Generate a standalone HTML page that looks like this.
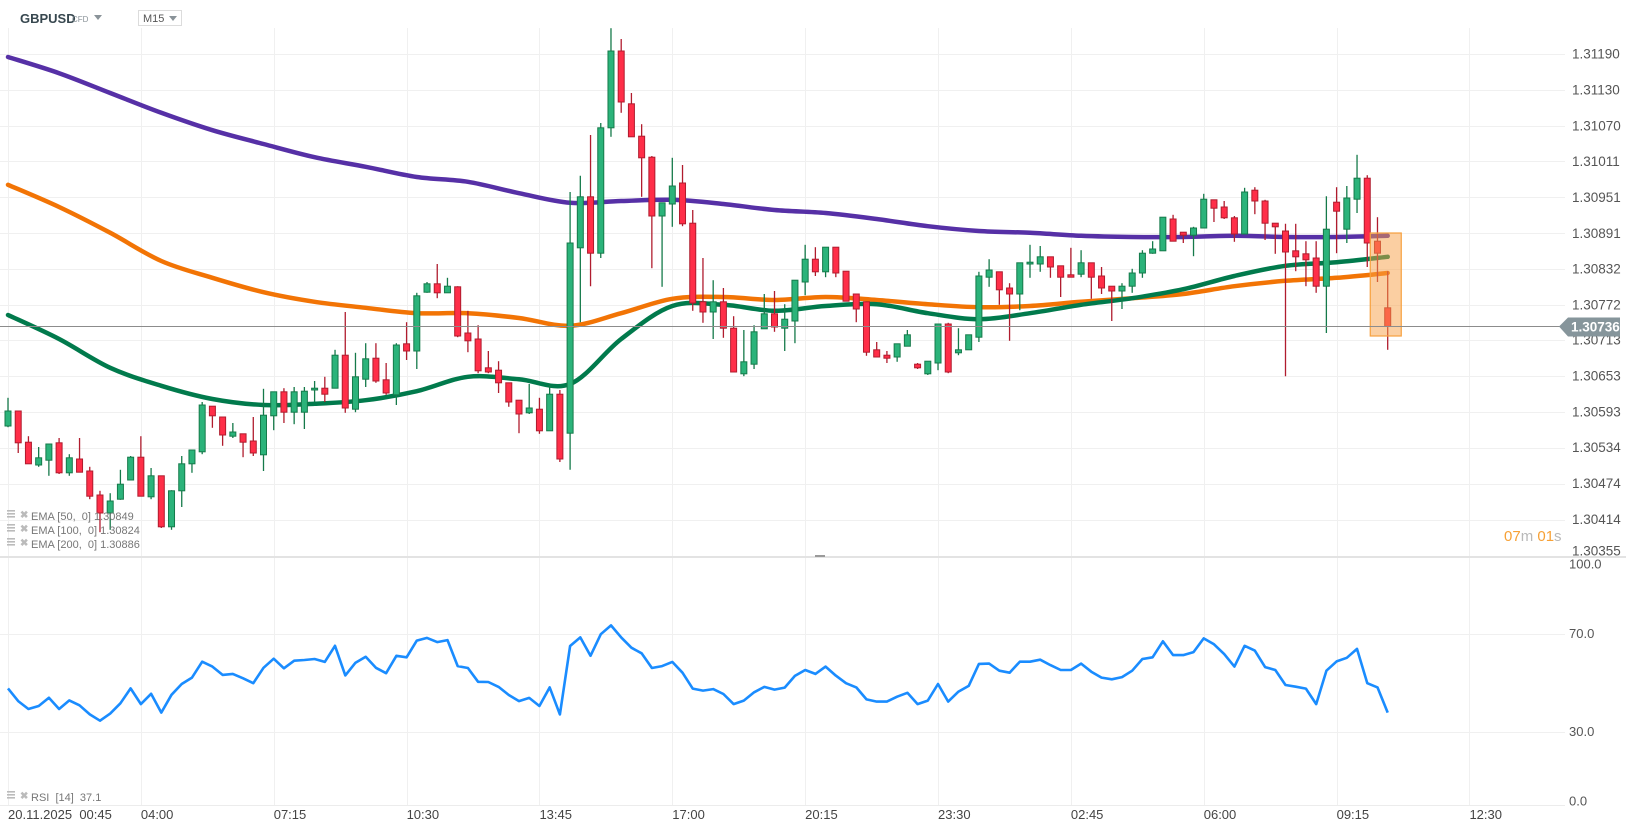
<!DOCTYPE html>
<html><head><meta charset="utf-8"><style>
html,body{margin:0;padding:0;background:#fff;}
svg{display:block;font-family:"Liberation Sans",Arial,sans-serif;}
</style></head><body>
<svg id="chart" width="1626" height="831" viewBox="0 0 1626 831" xmlns="http://www.w3.org/2000/svg">
<g id="grid"></g>
<g id="emas"></g>
<g id="candles"></g>
<g id="rsi"></g>
<g id="axes"></g>
<rect x="0" y="556" width="1626" height="2" fill="#e3e3e3"/>
<rect x="815" y="555" width="10" height="2" fill="#9a9a9a"/>
<g>
<text x="20" y="23" font-size="13" font-weight="bold" fill="#37474f">GBPUSD</text>
<text x="72" y="22" font-size="8" fill="#8a9399">CFD</text>
<path d="M94 15 L102 15 L98 20 Z" fill="#8a9399"/>
</g>
<g>
<rect x="138.5" y="10.5" width="43" height="15" fill="#fff" stroke="#dcdcdc"/>
<text x="143" y="22" font-size="11" fill="#555">M15</text>
<path d="M169 16 L177 16 L173 21 Z" fill="#8a9399"/>
</g>
<g id="legend"></g>
<text x="1504" y="541" font-size="15"><tspan fill="#f7a136">07</tspan><tspan fill="#b9b9b9">m </tspan><tspan fill="#f7a136">01</tspan><tspan fill="#b9b9b9">s</tspan></text>
</svg>
<script>
const openP=[1.30570,1.30595,1.30543,1.30505,1.30513,1.30542,1.30492,1.30515,1.30495,1.30455,
1.30425,1.30448,1.30480,1.30518,1.30452,1.30487,1.30402,1.30462,1.30507,1.30527,
1.30603,1.30585,1.30553,1.30557,1.30545,1.30522,1.30587,1.30627,1.30593,1.30593,
1.30630,1.30633,1.30633,1.30688,1.30598,1.30648,1.30683,1.30647,1.30622,1.30707,
1.30695,1.30793,1.30807,1.30792,1.30802,1.30725,1.30715,1.30667,1.30663,1.30642,
1.30613,1.30592,1.30598,1.30562,1.30623,1.30558,1.30867,1.30952,1.30858,1.31067,
1.31195,1.31107,1.31053,1.31018,1.30920,1.30940,1.30975,1.30908,1.30777,1.30760,
1.30777,1.30733,1.30657,1.30673,1.30732,1.30757,1.30733,1.30745,1.30810,1.30848,
1.30827,1.30868,1.30828,1.30790,1.30777,1.30697,1.30688,1.30685,1.30703,1.30673,
1.30657,1.30675,1.30740,1.30692,1.30697,1.30718,1.30818,1.30827,1.30800,1.30790,
1.30840,1.30840,1.30852,1.30837,1.30822,1.30823,1.30842,1.30820,1.30803,1.30795,
1.30803,1.30825,1.30858,1.30862,1.30915,1.30893,1.30888,1.30900,1.30947,1.30935,
1.30917,1.30890,1.30963,1.30945,1.30908,1.30895,1.30862,1.30857,1.30850,1.30803,
1.30943,1.30898,1.30948,1.30983,1.30878,1.30767];
const highP=[1.30617,1.30595,1.30553,1.30535,1.30540,1.30550,1.30523,1.30550,1.30502,1.30462,
1.30458,1.30497,1.30520,1.30553,1.30500,1.30487,1.30463,1.30520,1.30530,1.30610,
1.30603,1.30585,1.30575,1.30557,1.30585,1.30632,1.30627,1.30633,1.30635,1.30635,
1.30645,1.30652,1.30697,1.30760,1.30692,1.30708,1.30708,1.30675,1.30708,1.30743,
1.30792,1.30810,1.30840,1.30817,1.30803,1.30762,1.30738,1.30695,1.30678,1.30642,
1.30613,1.30640,1.30617,1.30638,1.30630,1.30960,1.30987,1.31055,1.31075,1.31233,
1.31215,1.31125,1.31073,1.31020,1.30942,1.31017,1.31005,1.30930,1.30850,1.30813,
1.30800,1.30753,1.30730,1.30738,1.30790,1.30795,1.30773,1.30813,1.30872,1.30868,
1.30868,1.30868,1.30828,1.30790,1.30777,1.30710,1.30695,1.30707,1.30730,1.30675,
1.30678,1.30740,1.30742,1.30733,1.30722,1.30827,1.30848,1.30827,1.30808,1.30842,
1.30872,1.30870,1.30852,1.30837,1.30867,1.30863,1.30842,1.30835,1.30803,1.30808,
1.30832,1.30863,1.30878,1.30918,1.30922,1.30893,1.30902,1.30957,1.30947,1.30945,
1.30920,1.30967,1.30968,1.30947,1.30908,1.30907,1.30907,1.30878,1.30878,1.30953,
1.30968,1.30970,1.31022,1.30988,1.30918,1.30828];
const lowP=[1.30568,1.30525,1.30507,1.30502,1.30487,1.30490,1.30487,1.30493,1.30448,1.30393,
1.30397,1.30447,1.30480,1.30453,1.30448,1.30400,1.30397,1.30435,1.30492,1.30523,
1.30567,1.30537,1.30550,1.30518,1.30520,1.30495,1.30563,1.30575,1.30573,1.30565,
1.30610,1.30610,1.30633,1.30592,1.30593,1.30635,1.30642,1.30622,1.30605,1.30680,
1.30665,1.30792,1.30783,1.30792,1.30718,1.30693,1.30658,1.30658,1.30625,1.30602,
1.30558,1.30590,1.30557,1.30562,1.30510,1.30497,1.30743,1.30803,1.30850,1.31052,
1.31092,1.31052,1.30952,1.30833,1.30802,1.30902,1.30903,1.30762,1.30742,1.30715,
1.30717,1.30660,1.30653,1.30665,1.30732,1.30727,1.30695,1.30708,1.30788,1.30820,
1.30818,1.30818,1.30778,1.30743,1.30687,1.30685,1.30675,1.30677,1.30703,1.30665,
1.30655,1.30663,1.30658,1.30688,1.30697,1.30710,1.30802,1.30772,1.30712,1.30763,
1.30817,1.30827,1.30817,1.30785,1.30818,1.30818,1.30782,1.30790,1.30745,1.30765,
1.30792,1.30817,1.30857,1.30862,1.30878,1.30875,1.30853,1.30900,1.30910,1.30915,
1.30877,1.30890,1.30923,1.30880,1.30857,1.30653,1.30828,1.30803,1.30792,1.30725,
1.30858,1.30875,1.30925,1.30835,1.30810,1.30697];
const closeP=[1.30595,1.30542,1.30507,1.30517,1.30540,1.30492,1.30517,1.30493,1.30453,1.30425,
1.30445,1.30473,1.30518,1.30453,1.30487,1.30402,1.30462,1.30507,1.30530,1.30605,
1.30587,1.30555,1.30560,1.30543,1.30525,1.30588,1.30627,1.30593,1.30627,1.30628,
1.30633,1.30623,1.30688,1.30600,1.30652,1.30682,1.30645,1.30625,1.30705,1.30695,
1.30787,1.30807,1.30792,1.30803,1.30720,1.30712,1.30662,1.30660,1.30642,1.30610,
1.30590,1.30600,1.30562,1.30623,1.30515,1.30875,1.30952,1.30858,1.31067,1.31195,
1.31110,1.31052,1.31017,1.30920,1.30942,1.30970,1.30907,1.30775,1.30760,1.30777,
1.30733,1.30660,1.30677,1.30727,1.30757,1.30735,1.30748,1.30813,1.30848,1.30827,
1.30868,1.30825,1.30778,1.30765,1.30693,1.30685,1.30683,1.30707,1.30722,1.30667,
1.30678,1.30740,1.30660,1.30697,1.30722,1.30820,1.30830,1.30797,1.30790,1.30842,
1.30843,1.30852,1.30835,1.30818,1.30818,1.30842,1.30818,1.30800,1.30795,1.30803,
1.30825,1.30858,1.30865,1.30918,1.30878,1.30888,1.30900,1.30948,1.30933,1.30917,
1.30890,1.30960,1.30945,1.30908,1.30902,1.30860,1.30852,1.30847,1.30803,1.30898,
1.30928,1.30950,1.30983,1.30875,1.30858,1.30736];
const emaIdx=[0,5,10,15,20,25,30,35,40,45,50,55,60,65,70,75,80,85,90,95,100,105,110,115,120,125,130,135];
const ema50=[1.30755,1.30715,1.30667,1.30637,1.30615,1.30605,1.30607,1.30613,1.30628,1.30652,1.30648,1.30640,1.30715,1.30770,1.30772,1.30762,1.30770,1.30773,1.30758,1.30748,1.30758,1.30772,1.30783,1.30798,1.30820,1.30837,1.30843,1.30852];
const ema100=[1.30972,1.30935,1.30892,1.30845,1.30817,1.30793,1.30777,1.30767,1.30758,1.30758,1.30750,1.30737,1.30758,1.30782,1.30785,1.30780,1.30785,1.30780,1.30773,1.30768,1.30770,1.30777,1.30783,1.30790,1.30803,1.30812,1.30817,1.30825];
const ema200=[1.31185,1.31158,1.31125,1.31092,1.31063,1.31040,1.31018,1.31002,1.30985,1.30977,1.30958,1.30942,1.30945,1.30947,1.30940,1.30930,1.30925,1.30915,1.30903,1.30895,1.30892,1.30887,1.30885,1.30885,1.30887,1.30885,1.30885,1.30887];
const rsiVals=[47.6,42.4,39.2,40.4,43.8,39.2,42.7,40.7,37.0,34.4,
37.3,41.5,47.6,41.2,45.4,37.7,45.0,49.4,52.0,58.5,
56.5,53.1,53.5,51.7,49.7,56.0,59.7,55.8,58.9,59.2,
59.6,58.4,65.0,52.9,58.1,60.5,56.0,53.8,60.9,60.3,
67.1,68.2,66.5,67.3,56.7,55.9,50.3,50.2,48.2,44.9,
42.4,43.7,40.4,48.0,37.0,64.9,68.4,60.9,69.7,73.3,
68.4,64.2,61.9,55.9,56.7,58.4,54.0,47.5,
46.7,47.3,45.3,41.2,42.6,46.0,48.2,47.1,47.9,52.7,
55.1,53.5,56.5,52.8,49.7,48.0,43.1,42.2,42.2,44.2,
45.8,41.2,42.6,49.4,42.2,46.3,48.6,57.6,57.7,54.8,
54.0,58.5,58.5,59.3,57.1,55.1,55.1,57.7,54.4,52.0,
51.3,52.2,54.8,59.6,60.3,66.8,61.2,61.2,62.4,68.0,
65.6,61.6,56.5,65.0,63.0,56.3,55.1,49.0,48.3,47.5,
41.2,54.8,58.6,60.1,63.7,49.7,48.0,37.7];
const priceTicks=[1.31190,1.31130,1.31070,1.31011,1.30951,1.30891,1.30832,1.30772,1.30713,1.30653,1.30593,1.30534,1.30474,1.30414,1.30355];
const priceTickLabels=["1.31190","1.31130","1.31070","1.31011","1.30951","1.30891","1.30832","1.30772","1.30713","1.30653","1.30593","1.30534","1.30474","1.30414","1.30355"];
const rsiTicks=[100,70,30,0];
const rsiTickLabels=["100.0","70.0","30.0","0.0"];
const timeTickIdx=[0,13,26,39,52,65,78,91,104,117,130,143];
const timeTickLabels=["20.11.2025  00:45","04:00","07:15","10:30","13:45","17:00","20:15","23:30","02:45","06:00","09:15","12:30"];
const lastPrice=1.30736;
const legendNames=["EMA [50,  0]","EMA [100,  0]","EMA [200,  0]"];
const legendValues=["1.30849","1.30824","1.30886"];
const rsiLegend="RSI  [14]  37.1";

const NS="http://www.w3.org/2000/svg";
const xOf=i=>8+i*10.22;
const yP=p=>54+(1.31190-p)*60000;
const yR=v=>805-2.45*v;
function mk(tag,attrs,parent){const e=document.createElementNS(NS,tag);for(const k in attrs)e.setAttribute(k,attrs[k]);parent.appendChild(e);return e;}
const grid=document.getElementById('grid'),emas=document.getElementById('emas'),cg=document.getElementById('candles'),rg=document.getElementById('rsi'),ax=document.getElementById('axes'),lg=document.getElementById('legend');

priceTicks.forEach((p,k)=>{if(k===priceTicks.length-1)return;const y=Math.round(yP(p))+0.5;
const l=mk('line',{x1:0,x2:1565,y1:y,y2:y,stroke:'#f0f0f0','stroke-width':1},grid);

});
rsiTicks.slice(1,3).forEach(v=>{const y=Math.round(yR(v))+0.5;
const l=mk('line',{x1:0,x2:1565,y1:y,y2:y,stroke:'#f0f0f0','stroke-width':1},grid);

});
const bl=mk('line',{x1:0,x2:1565,y1:805.5,y2:805.5,stroke:'#ececec','stroke-width':1},grid);


timeTickIdx.forEach(i=>{const x=Math.round(xOf(i))+0.5;
const l=mk('line',{x1:x,x2:x,y1:28,y2:805,stroke:'#f0f0f0','stroke-width':1},grid);

});

function smoothD(pts){let d='M'+pts[0][0].toFixed(1)+' '+pts[0][1].toFixed(1);
for(let k=0;k<pts.length-1;k++){const p0=pts[Math.max(0,k-1)],p1=pts[k],p2=pts[k+1],p3=pts[Math.min(pts.length-1,k+2)];
const c1x=p1[0]+(p2[0]-p0[0])/6,c1y=p1[1]+(p2[1]-p0[1])/6,c2x=p2[0]-(p3[0]-p1[0])/6,c2y=p2[1]-(p3[1]-p1[1])/6;
d+=` C${c1x.toFixed(1)} ${c1y.toFixed(1)} ${c2x.toFixed(1)} ${c2y.toFixed(1)} ${p2[0].toFixed(1)} ${p2[1].toFixed(1)}`;}
return d;}
function emaPath(vals,color,name){const pts=vals.map((v,k)=>[xOf(emaIdx[k]),yP(v)]);
const p=mk('path',{d:smoothD(pts),fill:'none',stroke:color,'stroke-width':4.5,'stroke-linejoin':'round','stroke-linecap':'round'},emas);

}
emaPath(ema200,'#5630a6','ema-200-line');
emaPath(ema100,'#f27405','ema-100-line');
emaPath(ema50,'#017a4c','ema-50-line');

const lp=Math.round(yP(lastPrice))+0.5;
const pl=mk('line',{x1:0,x2:1560,y1:lp,y2:lp,stroke:'#8c8c8c','stroke-width':1},ax);



openP.forEach((o,i)=>{const c=closeP[i],up=c>=o;const x=xOf(i);
const g=mk('g',{},cg);


const wc=up?'#157a4a':'#b01c2e';
mk('line',{x1:x,x2:x,y1:yP(highP[i]),y2:yP(lowP[i]),stroke:wc,'stroke-width':1.3},g);
const t=yP(Math.max(o,c)),b=yP(Math.min(o,c));
mk('rect',{x:x-3,y:t,width:6,height:Math.max(1.5,b-t),fill:up?'#2bb37a':'#ff2e48',stroke:wc,'stroke-width':1},g);});

const hb=mk('rect',{x:xOf(133)+3,y:233,width:31,height:103,fill:'rgba(247,160,70,0.5)',stroke:'#f7a13f','stroke-width':1.2},cg);



const rd=rsiVals.map((v,i)=>(i?'L':'M')+xOf(i).toFixed(1)+' '+yR(v).toFixed(1)).join(' ');
const rp=mk('path',{d:rd,fill:'none',stroke:'#1a8cff','stroke-width':2.6,'stroke-linejoin':'round'},rg);



priceTicks.forEach((p,k)=>{const y=Math.min(yP(p),551);
const t=mk('text',{x:1572,y:y+4.5,'font-size':13.5,fill:'#555'},ax);t.textContent=priceTickLabels[k];

});
rsiTicks.forEach((v,k)=>{const y=Math.min(Math.max(yR(v),564),801);
const t=mk('text',{x:1569,y:y+4.5,'font-size':13,fill:'#555'},ax);t.textContent=rsiTickLabels[k];

});
timeTickIdx.forEach((i,k)=>{const t=mk('text',{x:xOf(i),y:819,'font-size':13,fill:'#444'},ax);
t.setAttribute('style','white-space:pre');t.textContent=timeTickLabels[k];

});

const bg=mk('g',{},ax);


mk('path',{d:`M1559 ${lp} L1568 ${lp-9} L1620 ${lp-9} L1620 ${lp+10} L1568 ${lp+10} Z`,fill:'#86959b'},bg);
const bt=mk('text',{x:1571,y:lp+5,'font-size':13.5,'font-weight':'bold',fill:'#fff'},bg);bt.textContent=closeP[closeP.length-1].toFixed(5);

function legendRow(y,label,name){const g=mk('g',{},lg);


mk('rect',{x:7,y:y-7,width:8,height:1.6,fill:'#bbb'},g);mk('rect',{x:7,y:y-4,width:8,height:1.6,fill:'#bbb'},g);mk('rect',{x:7,y:y-1,width:8,height:1.6,fill:'#bbb'},g);
const x=mk('text',{x:20,y:y+1,'font-size':10,'font-weight':'bold',fill:'#bbb'},g);x.textContent='✖';
const t=mk('text',{x:31,y:y+3,'font-size':11,fill:'#777'},g);t.setAttribute('style','white-space:pre');t.textContent=label;}
legendNames.forEach((n,k)=>legendRow(517+k*14,n+' '+legendValues[k],'ema-legend-entry'));
legendRow(798,rsiLegend,'rsi-legend-entry');
</script>
</body></html>
